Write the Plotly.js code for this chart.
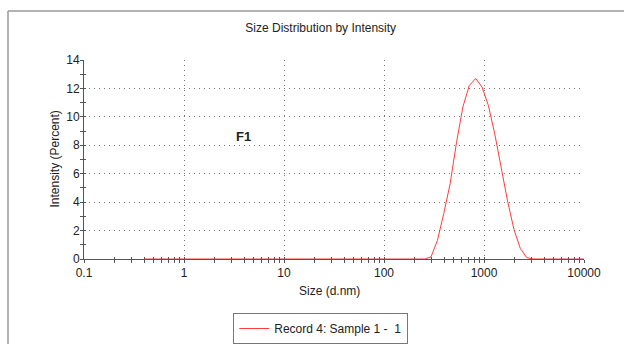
<!DOCTYPE html>
<html>
<head>
<meta charset="utf-8">
<script src="https://cdn.plot.ly/plotly-3.0.1.min.js"></script>
<style>html,body{margin:0;padding:0;background:#fff;}#chart{width:624px;height:344px;}</style>
</head>
<body>
<div id="chart"></div>
<script>
// Size bins (d.nm)
const sizes = [0.4, 0.4632, 0.5365, 0.6213, 0.7195, 0.8332, 0.9649, 1.117, 1.294, 1.499,
  1.736, 2.010, 2.328, 2.696, 3.122, 3.615, 4.187, 4.849, 5.615, 6.503,
  7.531, 8.721, 10.10, 11.70, 13.54, 15.69, 18.17, 21.04, 24.36, 28.21,
  32.67, 37.84, 43.82, 50.75, 58.77, 68.06, 78.82, 91.28, 105.7, 122.4,
  141.8, 164.2, 190.1, 220.2, 255.0, 295.3, 342.0, 396.1, 458.7, 531.2,
  615.1, 712.4, 825.0, 955.4, 1106, 1281, 1484, 1718, 1990, 2305,
  2669, 3091, 3580, 4145, 4801, 5560, 6439, 7456, 8635, 10000];
// Intensity (Percent)
const intensity = [0, 0, 0, 0, 0, 0, 0, 0, 0, 0,
  0, 0, 0, 0, 0, 0, 0, 0, 0, 0,
  0, 0, 0, 0, 0, 0, 0, 0, 0, 0,
  0, 0, 0, 0, 0, 0, 0, 0, 0, 0,
  0, 0, 0, 0, 0, 0.15, 1.3, 3.2, 5.3, 8.2,
  10.7, 12.2, 12.7, 12.1, 10.8, 8.8, 6.5, 4.1, 2.1, 0.75,
  0.1, 0, 0, 0, 0, 0, 0, 0, 0, 0];
const seriesName = "Record 4: Sample 1 -  1";
const xTickVals = [0.1, 1, 10, 100, 1000, 10000];
const xTickText = ["0.1", "1", "10", "100", "1000", "10000"];
const xTitle = "Size (d.nm)";
const yTitle = "Intensity (Percent)";

const font = {family: "Liberation Sans, Arial, sans-serif", size: 12, color: "#222"};
const axisCol = "#555";

const traces = [
  {x: sizes, y: intensity, type: "scatter", mode: "lines", name: seriesName,
   line: {color: "rgb(255,60,60)", width: 1}, hoverinfo: "skip"},
  {x: [sizes[0]], y: [0], xaxis: "x2", yaxis: "y2", type: "scatter", mode: "markers",
   marker: {opacity: 0}, showlegend: false, hoverinfo: "skip"}
];

const layout = {
  width: 624, height: 344,
  margin: {l: 84, r: 40, t: 60, b: 85},
  paper_bgcolor: "#fff", plot_bgcolor: "#fff",
  font: font,
  title: {text: "Size Distribution by Intensity", font: {size: 12, color: "#222"},
          xref: "container", x: 0.514, xanchor: "center", yref: "container", y: 0.92, yanchor: "middle"},
  xaxis: {
    type: "log", range: [-1, 4], tickvals: xTickVals, ticktext: xTickText,
    showline: true, linecolor: axisCol, linewidth: 1,
    ticks: "outside", ticklen: 3, tickcolor: axisCol,
    showgrid: true, gridcolor: "#777", griddash: "1px,4px", gridwidth: 1,
    minor: {dtick: "D1", ticks: "outside", ticklen: 3, tickcolor: axisCol, showgrid: false},
    zeroline: false, tickfont: font, automargin: false
  },
  yaxis: {
    range: [0, 14], dtick: 2,
    showline: true, linecolor: axisCol, linewidth: 1,
    ticks: "outside", ticklen: 3, tickcolor: axisCol, ticklabelstandoff: -2,
    showgrid: true, gridcolor: "#777", griddash: "1px,4px", gridwidth: 1,
    minor: {dtick: 1, ticks: "outside", ticklen: 3, tickcolor: axisCol, showgrid: false},
    zeroline: false, tickfont: font, automargin: false
  },
  xaxis2: {
    type: "log", range: [-1, 4], overlaying: "x", anchor: "y2", side: "bottom",
    showticklabels: false, showgrid: false, zeroline: false, showline: false,
    ticks: "inside", ticklen: 2, tickcolor: axisCol, dtick: 1,
    minor: {dtick: "D1", ticks: "inside", ticklen: 2, tickcolor: axisCol, showgrid: false}
  },
  yaxis2: {
    range: [0, 14], overlaying: "y", anchor: "x2", side: "left",
    showticklabels: false, showgrid: false, zeroline: false, showline: false,
    ticks: "inside", ticklen: 2, tickcolor: axisCol, dtick: 2,
    minor: {dtick: 1, ticks: "inside", ticklen: 2, tickcolor: axisCol, showgrid: false}
  },
  showlegend: true,
  legend: {orientation: "h", xref: "container", yref: "container",
           x: 0.514, xanchor: "center", y: 0.0, yanchor: "bottom",
           bordercolor: "#777", borderwidth: 1, font: font, bgcolor: "#fff"},
  annotations: [
    {x: Math.log10(3.9), y: 8.6, xref: "x", yref: "y", text: "<b>F1</b>", showarrow: false,
     font: {family: font.family, size: 13, color: "#222"}},
    {x: 0.49, y: -0.161, xref: "paper", yref: "paper", xanchor: "center", yanchor: "middle",
     text: xTitle, showarrow: false, font: font},
    {x: -0.06, y: 0.5, xref: "paper", yref: "paper", xanchor: "center", yanchor: "middle",
     text: yTitle, textangle: -90, showarrow: false, font: font}
  ],
  shapes: [
    {type: "line", xref: "paper", yref: "paper", x0: -0.152, x1: -0.152, y0: 1.246, y1: -0.45,
     line: {color: "#999", width: 1.5}},
    {type: "line", xref: "paper", yref: "paper", x0: -0.152, x1: 1.1, y0: 1.246, y1: 1.246,
     line: {color: "#999", width: 1.5}}
  ]
};

Plotly.newPlot("chart", traces, layout, {displayModeBar: false, staticPlot: true});
</script>
</body>
</html>
